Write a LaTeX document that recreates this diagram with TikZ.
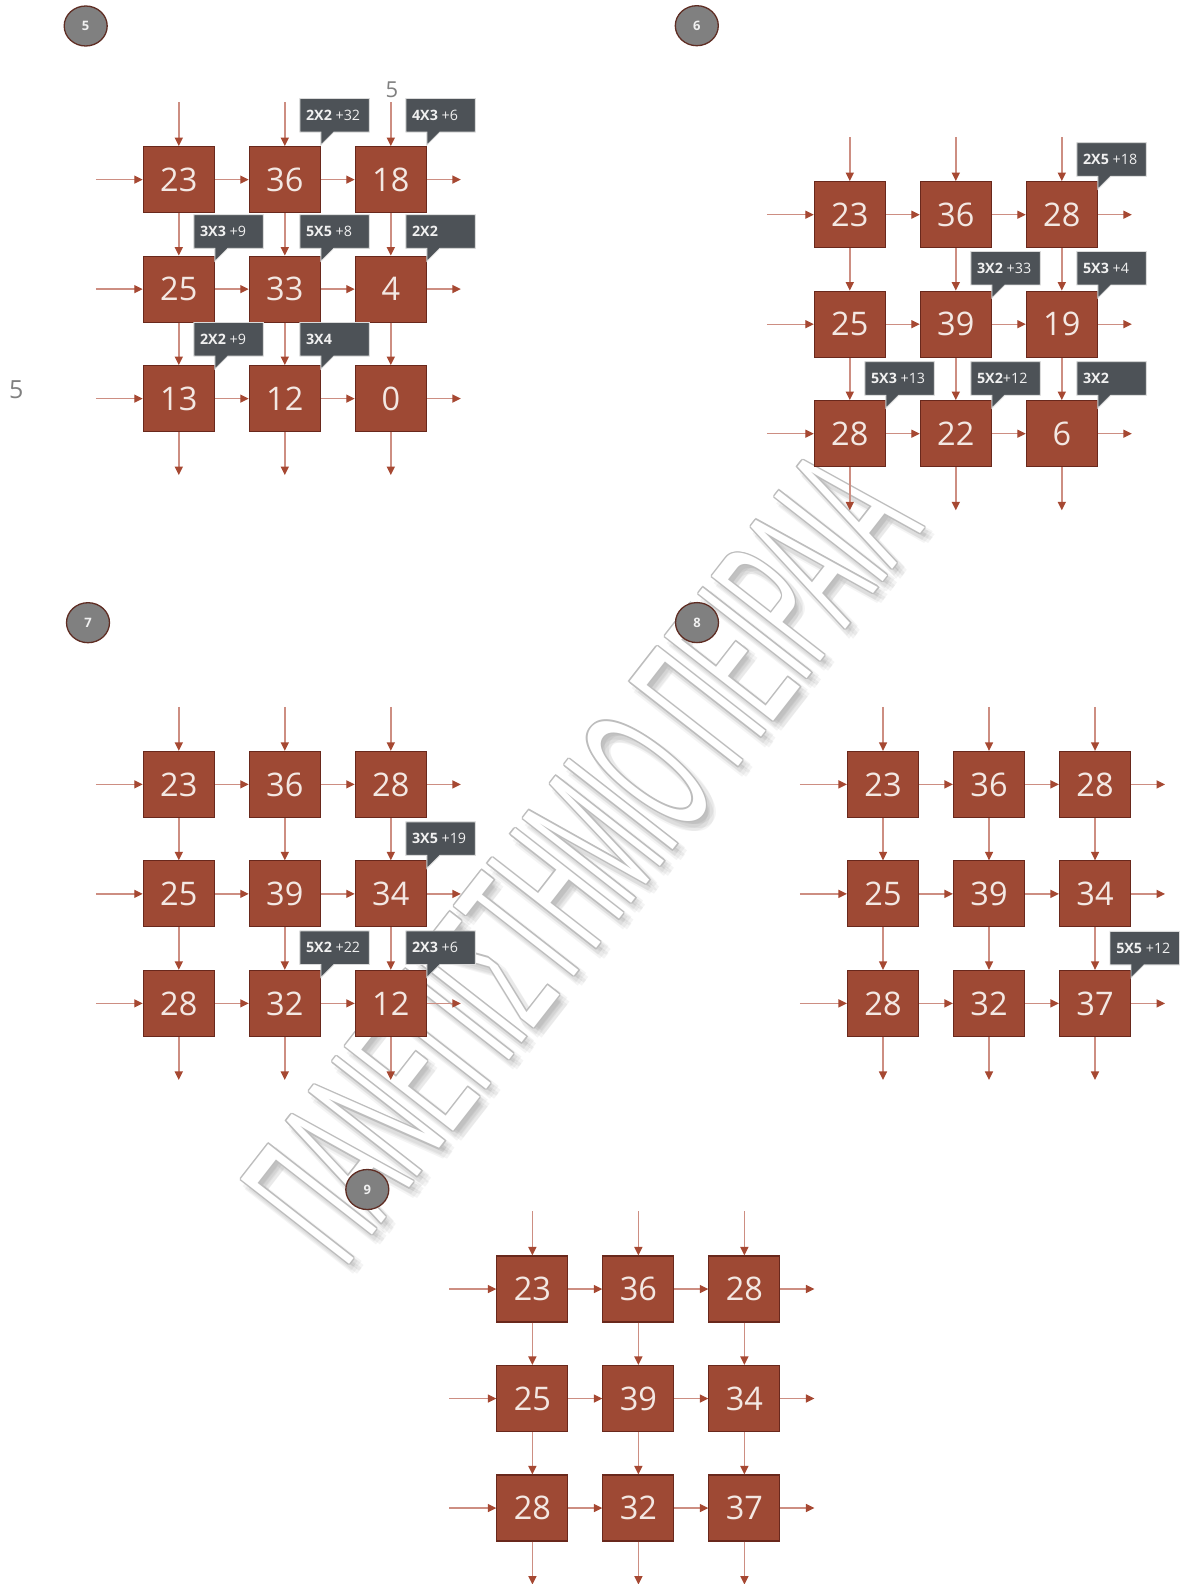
\documentclass[tikz,border=0pt]{standalone}
\usepackage{fontspec}
\setmainfont{Open Sans}
\newfontfamily\wmfont{Liberation Sans}
\usetikzlibrary{arrows.meta,calc,shapes.geometric}
\definecolor{boxfill}{RGB}{158,73,52}
\definecolor{boxdraw}{RGB}{105,40,28}
\definecolor{boxtext}{RGB}{243,232,227}
\definecolor{lineclr}{RGB}{205,142,130}
\definecolor{headclr}{RGB}{166,72,50}
\definecolor{callfill}{RGB}{77,82,87}
\definecolor{calldraw}{RGB}{218,218,218}
\definecolor{calltext}{RGB}{240,240,240}
\definecolor{circfill}{RGB}{128,128,128}
\definecolor{circdraw}{RGB}{95,45,35}
\tikzset{
  cell/.style={draw=boxdraw, line width=1.1pt, fill=boxfill, minimum width=71pt, minimum height=66pt, inner sep=0pt, text=boxtext, font=\fontsize{32.5}{32.5}\selectfont},
  conn/.style={draw=lineclr, line width=1.4pt, -{Triangle[length=8.5pt,width=8pt,color=headclr]}},
  callbox/.style={fill=callfill, draw=calldraw, line width=0.8pt},
  calltext/.style={text=calltext, inner sep=0pt, anchor=west, font=\fontsize{14.3}{14.3}\selectfont},
  badge/.style={ellipse, draw=circdraw, line width=1.3pt, fill=circfill, minimum width=43pt, minimum height=40pt, inner sep=0pt, text=calltext, font=\bfseries\fontsize{13}{13}\selectfont},
  lbl/.style={text=black!50, inner sep=0pt}
}
\newcommand\drawgrid[4]{%
  \foreach \v [count=\i from 0] in {#4} {%
    \pgfmathtruncatemacro\rr{\i/3+1}%
    \pgfmathtruncatemacro\cc{mod(\i,3)+1}%
    \node[cell] (#1-\rr\cc) at ({#2+(\cc-1)*106},{#3+(\rr-1)*109.5}) {\v};
  }%
  \foreach \rr in {1,2,3} {%
    \coordinate (#1-in\rr) at ($(#1-\rr1.west)+(-47,0)$);
    \coordinate (#1-out\rr) at ($(#1-\rr3.east)+(34,0)$);
    \draw[conn] (#1-in\rr) -- (#1-\rr1.west);
    \draw[conn] (#1-\rr1.east) -- (#1-\rr2.west);
    \draw[conn] (#1-\rr2.east) -- (#1-\rr3.west);
    \draw[conn] (#1-\rr3.east) -- (#1-out\rr);
  }%
  \foreach \cc in {1,2,3} {%
    \coordinate (#1-top\cc) at ($(#1-1\cc.north)+(0,-44)$);
    \coordinate (#1-bot\cc) at ($(#1-3\cc.south)+(0,43)$);
    \draw[conn] (#1-top\cc) -- (#1-1\cc.north);
    \draw[conn] (#1-1\cc.south) -- (#1-2\cc.north);
    \draw[conn] (#1-2\cc.south) -- (#1-3\cc.north);
    \draw[conn] (#1-3\cc.south) -- (#1-bot\cc);
  }%
}
\newcommand\callout[5]{% #1 name, #2 box, #3 gap, #4 bold, #5 rest
  \begin{scope}[shift={(#2.north east)}]
    \draw[callbox] (-21,{-#3-33.5}) -- (48.5,{-#3-33.5}) -- (48.5,{-#3}) -- (13,{-#3}) -- (0,{-#3+13}) -- (0,{-#3}) -- (-21,{-#3}) -- cycle;
    \node[calltext] (#1) at (-15,{-#3-16.75}) {\textbf{#4}#5};
  \end{scope}
}
\newcommand\wmtext{\scalebox{0.40}[1]{\wmfont\fontsize{200}{200}\selectfont ΠΑΝΕΠΙΣΤΗΜΙΟ ΠΕΙΡΑΙΑ}}
\begin{document}
\begin{tikzpicture}[x=1pt,y=-1pt]
\useasboundingbox (0,0) rectangle (1187,1584);
\fill[white] (0,0) rectangle (1187,1584);
% watermark
\foreach \a in {0,60,...,300} {
  \node[rotate=52, text=black, text opacity=0.045, inner sep=0pt] at ($(581,856)+(6,7)+(\a:4)$) {\wmtext};
}
\foreach \a in {0,45,...,315} {
  \node[rotate=52, text=black!26, inner sep=0pt] at ($(581,856)+(\a:1.4)$) {\wmtext};
}
\node[rotate=52, text=white, inner sep=0pt] (wm) at (581,856) {\wmtext};
% badges
\node[badge] (b5) at (85.7,26) {5};
\node[badge] (b6) at (696.8,25.7) {6};
\node[badge] (b7) at (88,622.7) {7};
\node[badge] (b8) at (697,622.6) {8};
\node[badge] (b9) at (367.3,1189.5) {9};
% stray labels
\node[lbl, font=\fontsize{22}{22}\selectfont] (t5a) at (392,90) {5};
\node[lbl, font=\fontsize{25}{25}\selectfont] (t5b) at (16.3,390) {5};
% grids
\drawgrid{g5}{178.8}{179.6}{23,36,18,25,33,4,13,12,0}
\drawgrid{g6}{849.8}{214.7}{23,36,28,25,39,19,28,22,6}
\drawgrid{g7}{178.8}{784.4}{23,36,28,25,39,34,28,32,12}
\drawgrid{g8}{883}{784.4}{23,36,28,25,39,34,28,32,37}
\drawgrid{g9}{532.4}{1289}{23,36,28,25,39,34,28,32,37}
% callouts grid 5
\callout{k51}{g5-12}{14}{2X2}{ +32}
\callout{k52}{g5-13}{14}{4X3}{ +6}
\callout{k53}{g5-21}{7.3}{3X3}{ +9}
\callout{k54}{g5-22}{7.3}{5X5}{ +8}
\callout{k55}{g5-23}{7.3}{2X2}{}
\callout{k56}{g5-31}{9}{2X2}{ +9}
\callout{k57}{g5-32}{9}{3X4}{}
% callouts grid 6
\callout{k61}{g6-13}{5}{2X5}{ +18}
\callout{k62}{g6-22}{5.7}{3X2}{ +33}
\callout{k63}{g6-23}{5.7}{5X3}{ +4}
\callout{k64}{g6-31}{5}{5X3}{ +13}
\callout{k65}{g6-32}{5}{5X2}{+12}
\callout{k66}{g6-33}{5}{3X2}{}
% callouts grid 7
\callout{k71}{g7-23}{5}{3X5}{ +19}
\callout{k72}{g7-32}{5.4}{5X2}{ +22}
\callout{k73}{g7-33}{5.4}{2X3}{ +6}
% callout grid 8
\callout{k81}{g8-33}{5}{5X5}{ +12}
\end{tikzpicture}
\end{document}
